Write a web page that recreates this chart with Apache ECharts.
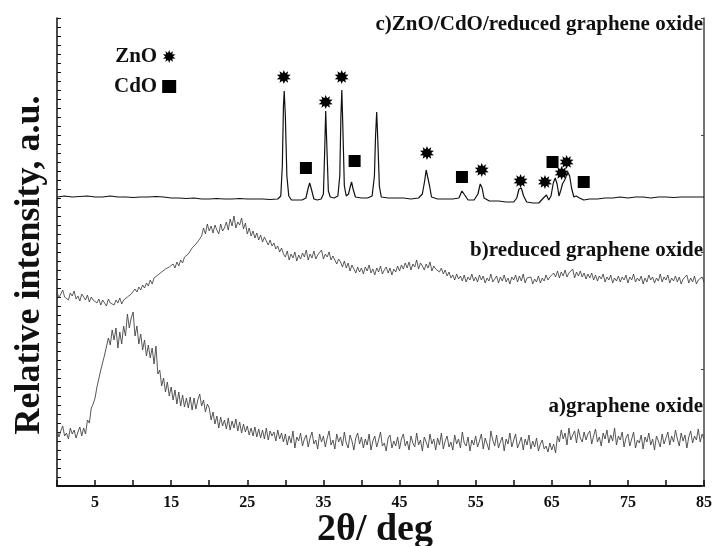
<!DOCTYPE html>
<html>
<head>
<meta charset="utf-8">
<script src="https://cdn.jsdelivr.net/npm/echarts@6.0.0/dist/echarts.min.js"></script>
<style>
html, body { margin: 0; padding: 0; background: #fff; }
#xrd { width: 715px; height: 546px; }
</style>
</head>
<body>
<div id="xrd"></div>
<script>
// 2theta step of the two noisy patterns (a and b), starting at 0 deg
var scanStep = 0.25;

// a) graphene oxide, one value per 0.25 deg from 0 to 85 (rows of 5 deg)
var goValues = [
	57,49,55,60,50,53,47,58,52,56,48,54,59,50,58,52,66,63,78,82,
	88,99,101,116,114,131,130,148,141,156,146,158,138,154,142,160,150,172,158,168,
	174,150,160,142,152,136,146,130,141,128,138,122,140,112,116,100,108,94,104,90,
	99,86,96,82,94,80,91,79,88,78,89,76,88,77,86,92,80,86,74,82,
	78,66,74,62,70,58,69,60,66,57,68,56,65,58,67,55,64,53,62,54,
	60,51,58,50,59,49,57,48,56,47,58,46,55,50,54,45,56,47,53,44,
	52,41,50,43,55,38,49,45,53,40,47,51,39,48,54,42,46,37,52,44,
	50,39,48,55,41,46,37,52,44,49,40,54,43,38,51,45,36,48,53,42,
	49,38,47,41,52,36,45,50,39,46,54,40,43,35,48,51,38,45,40,49,
	37,47,52,40,45,36,50,43,39,53,41,46,35,49,44,38,52,42,47,36,
	48,41,53,37,45,50,39,44,36,51,42,47,38,54,43,40,49,35,46,41,
	50,39,45,52,37,48,42,36,55,46,40,51,38,44,49,35,47,42,53,39,
	46,52,38,43,49,36,47,41,51,37,45,39,48,35,42,46,37,40,34,43,
	36,42,33,50,44,56,47,53,41,58,46,51,55,43,57,48,44,54,46,52,
	55,42,50,57,44,49,40,53,47,56,43,51,45,58,41,50,46,54,39,48,
	52,40,47,54,38,46,43,51,37,49,44,53,41,47,36,50,45,39,52,42,
	48,54,41,50,44,56,47,40,53,45,51,38,49,55,43,50,46,57,44,52,
	47
];

// b) reduced graphene oxide, same grid
var rgoValues = [
	194,188,192,196,189,191,186,193,190,195,187,190,185,192,189,186,191,184,189,186,
	188,183,187,181,186,184,180,187,183,185,181,186,183,188,182,186,184,189,187,192,
	191,197,194,199,196,201,198,203,200,206,202,208,207,211,209,214,212,217,215,219,
	217,222,218,224,220,226,223,229,227,232,233,238,236,242,240,247,250,258,252,262,
	255,260,253,261,256,252,262,255,258,264,256,267,260,270,258,264,261,268,257,263,
	252,258,250,255,248,253,246,251,244,249,245,241,246,240,243,237,240,234,238,232,
	229,235,226,232,228,234,225,231,227,233,229,236,226,232,228,235,227,231,229,236,
	227,232,229,234,226,230,228,222,227,224,219,225,218,223,215,221,217,213,219,214,
	218,212,219,215,221,213,217,211,218,214,220,212,216,219,213,218,211,217,214,220,
	215,221,217,223,218,224,216,222,219,226,217,223,220,216,222,218,224,215,220,217,
	219,214,218,212,216,210,214,208,211,206,212,207,210,205,211,204,209,206,212,205,
	209,204,211,206,210,203,208,205,212,204,207,210,203,209,205,211,204,208,202,209,
	206,211,204,210,205,212,203,208,206,209,202,207,204,210,203,208,205,211,206,209,
	207,213,209,215,208,214,210,216,209,213,211,217,208,214,210,215,209,213,207,212,
	208,213,206,211,205,210,207,212,204,209,206,211,203,208,205,210,204,209,206,211,
	203,209,206,212,204,208,205,210,202,208,204,211,206,209,203,208,205,212,204,209,
	206,211,203,208,205,210,204,209,202,207,205,211,203,208,204,210,202,206,205,209,
	204
];

// c) ZnO/CdO/reduced graphene oxide, [2theta, intensity]
var compositePattern = [
	[0,289],[1,290],[2,289],[3,289.5],[4,290],[5,289],[6,289],[7,290],[8,289],[9,289],
	[10,288.5],[11,289],[12,289],[13,289.5],[14,289],[15,288],[16,288],[17,287.5],[18,288],[19,287],
	[20,287],[21,287.5],[22,287],[23,287],[24,287.5],[25,287],[26,287],[27,287],[28,286.5],[29,287],
	[29.4,290],[29.6,320],[29.75,380],[29.85,395],[30.0,370],[30.2,310],[30.45,290],[30.8,286],[31.5,286],[32.2,286],
	[32.7,288],[33.0,298],[33.2,303],[33.45,296],[33.75,287],[34.2,286],[34.7,287],
	[35.0,292],[35.15,330],[35.3,375],[35.45,340],[35.65,295],[35.9,289],[36.4,288],[36.9,290],
	[37.15,310],[37.3,370],[37.42,396],[37.55,360],[37.75,300],[38.0,290],[38.3,292],
	[38.55,300],[38.7,304],[38.9,297],[39.2,289],[40,288],[40.8,288],[41.4,290],
	[41.7,310],[41.85,350],[42.0,374],[42.15,345],[42.35,300],[42.6,289],[43.5,288],[44.5,288],[45.5,288],[46.5,287],[47.5,288],
	[48.0,292],[48.3,305],[48.5,316],[48.75,314],[48.95,300],[49.2,289],[50,287],[51,287],[52,287],[52.8,288],
	[53.2,295],[53.4,297],[53.65,290],[54,286],[54.8,286],[55.3,292],[55.6,302],[55.85,298],[56.1,288],[56.8,285],
	[58,285],[59,284],[60,284],[60.4,288],[60.7,297],[61.0,298],[61.3,290],[61.7,284],[62.5,283],[63.3,283],
	[63.9,288],[64.3,291],[64.6,286],[64.9,290],[65.2,303],[65.45,308],[65.7,302],[65.95,290],[66.2,296],[66.4,302],
	[66.7,306],[67.1,314],[67.35,310],[67.6,298],[67.9,289],[68.2,290],[68.4,291],[68.65,288],[69.2,286],[70,287],
	[71,287],[72,288],[73,288],[74,289],[75,288],[76,289],[77,289],[78,288],[79,289],[80,289],
	[81,288.5],[82,289],[83,289],[84,289],[85,289]
];

// peak assignments drawn above pattern c
var znoMarks = [[29.8,409],[35.3,384],[37.4,409],[48.6,333],[55.8,316],[60.9,305],[64.1,304],[66.3,313],[66.95,324]];
var cdoMarks = [[32.7,318],[39.1,325],[53.2,309],[65.1,324],[69.2,304]];

var xTickLabels = [5,15,25,35,45,55,65,75,85];

function toPairs(values, step) {
	var out = [];
	for (var i = 0; i < values.length; i++)
		out.push([i * step, values[i]]);
	return out;
}

function burst(n, r1, r2) {
	var d = '';
	for (var i = 0; i < 2 * n; i++) {
		var r = i % 2 ? r2 : r1;
		var ang = Math.PI * i / n - Math.PI / 2;
		d += (i ? 'L' : 'M') + (50 + r * Math.cos(ang)).toFixed(1) + ' ' + (50 + r * Math.sin(ang)).toFixed(1);
	}
	return 'path://' + d + 'Z';
}

var serif = '"Liberation Serif", "DejaVu Serif", serif';
var star = burst(10, 50, 29);

var myChart = echarts.init(document.getElementById('xrd'));
var option = {
	animation: false,
	backgroundColor: '#fff',
	grid: { left: 57, right: 10, top: 18, bottom: 60 },
	xAxis: {
		type: 'value', min: 0, max: 85, interval: 5,
		axisLine: { lineStyle: { color: '#111', width: 2 } },
		axisTick: { inside: true, length: 6, lineStyle: { color: '#111', width: 1.5 } },
		axisLabel: {
			margin: 9, color: '#111', fontFamily: serif, fontWeight: 'bold', fontSize: 16,
			formatter: function (v) { return xTickLabels.indexOf(v) >= 0 ? v : ''; }
		},
		splitLine: { show: false }
	},
	yAxis: [{
		type: 'value', min: 0, max: 468, interval: 9, position: 'left',
		axisLine: { show: true, lineStyle: { color: '#111', width: 1.5 } },
		axisTick: { show: true, inside: true, length: 4, lineStyle: { color: '#111' } },
		axisLabel: { show: false },
		splitLine: { show: false }
	}, {
		type: 'value', min: 0, max: 468, interval: 117, position: 'right',
		axisLine: { show: true, lineStyle: { color: '#444', width: 1.5 } },
		axisTick: { show: true, inside: true, length: 3, lineStyle: { color: '#444' } },
		axisLabel: { show: false },
		splitLine: { show: false }
	}],
	legend: {
		data: [{ name: 'ZnO', icon: star }, { name: 'CdO', icon: 'rect' }],
		orient: 'vertical', left: 109, top: 41, align: 'right',
		itemWidth: 14, itemHeight: 13, itemGap: 9, selectedMode: false,
		itemStyle: { opacity: 1 },
		textStyle: { fontFamily: serif, fontWeight: 'bold', fontSize: 21, color: '#111' }
	},
	series: [{
		name: 'a', type: 'line', data: toPairs(goValues, scanStep), showSymbol: false,
		lineStyle: { color: '#444', width: 0.9 }
	}, {
		name: 'b', type: 'line', data: toPairs(rgoValues, scanStep), showSymbol: false,
		lineStyle: { color: '#333', width: 0.8 }
	}, {
		name: 'c', type: 'line', data: compositePattern, showSymbol: false,
		lineStyle: { color: '#111', width: 1.2 }
	}, {
		name: 'ZnO', type: 'scatter', data: znoMarks, symbol: star, symbolSize: 14,
		itemStyle: { color: '#000', opacity: 1 }
	}, {
		name: 'CdO', type: 'scatter', data: cdoMarks, symbol: 'rect', symbolSize: 12,
		itemStyle: { color: '#000', opacity: 1 }
	}],
	graphic: [{
		type: 'text', x: 703, y: 25,
		style: { text: 'c)ZnO/CdO/reduced graphene oxide', font: 'bold 21px ' + serif, fill: '#111',
			align: 'right', verticalAlign: 'middle', textAlign: 'right', textVerticalAlign: 'middle' }
	}, {
		type: 'text', x: 703, y: 251,
		style: { text: 'b)reduced graphene oxide', font: 'bold 21px ' + serif, fill: '#111',
			align: 'right', verticalAlign: 'middle', textAlign: 'right', textVerticalAlign: 'middle' }
	}, {
		type: 'text', x: 703, y: 407,
		style: { text: 'a)graphene oxide', font: 'bold 21px ' + serif, fill: '#111',
			align: 'right', verticalAlign: 'middle', textAlign: 'right', textVerticalAlign: 'middle' }
	}, {
		type: 'text', x: 30, y: 265, rotation: Math.PI / 2,
		style: { text: 'Relative intensity, a.u.', font: 'bold 36px ' + serif, fill: '#111',
			align: 'center', verticalAlign: 'middle', textAlign: 'center', textVerticalAlign: 'middle' }
	}, {
		type: 'text', x: 375, y: 530,
		style: { text: '2\u03b8/ deg', font: 'bold 38px ' + serif, fill: '#111',
			align: 'center', verticalAlign: 'middle', textAlign: 'center', textVerticalAlign: 'middle' }
	}]
};
myChart.setOption(option);
</script>
</body>
</html>
